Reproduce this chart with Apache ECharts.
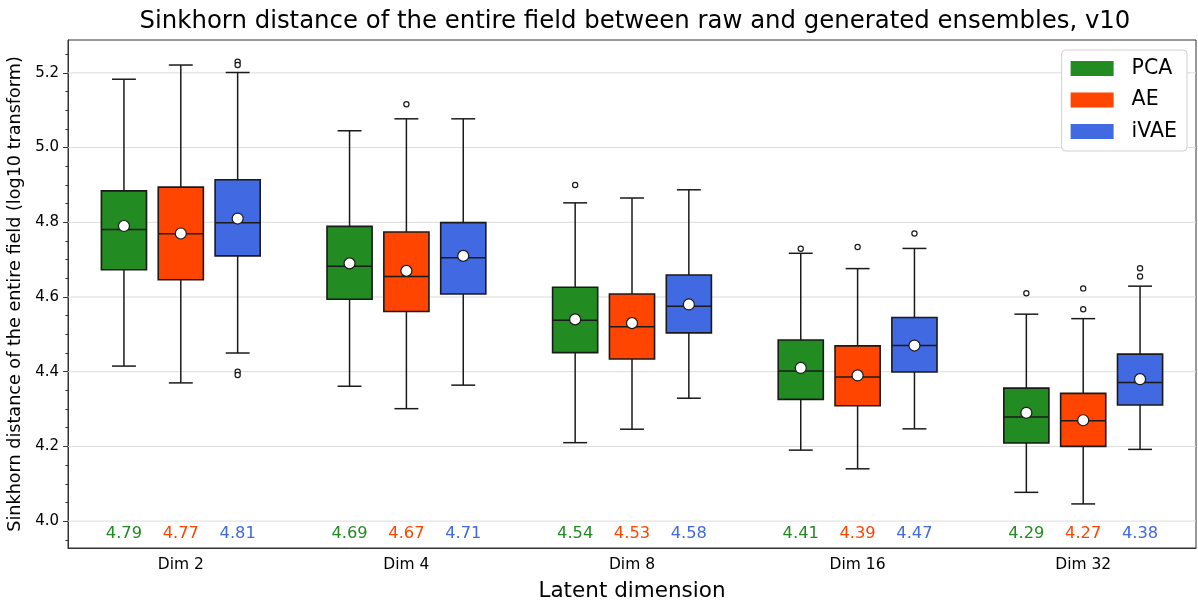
<!DOCTYPE html>
<html>
<head>
<meta charset="utf-8">
<script src="https://cdn.jsdelivr.net/npm/echarts@6/dist/echarts.min.js"></script>
<style>
  html, body { margin: 0; padding: 0; background: #fff; }
  #chart { width: 1198px; height: 604px; }
</style>
</head>
<body>
<div id="chart"></div>
<script>
// Latent dimensions on the x axis
const categories = ['Dim 2', 'Dim 4', 'Dim 8', 'Dim 16', 'Dim 32'];
const methods = ['PCA', 'AE', 'iVAE'];

// Y-axis tick labels (major) and minor tick positions
const yTickLabels = [4.0, 4.2, 4.4, 4.6, 4.8, 5.0, 5.2];
const yMinorTicks = [3.95, 4.05, 4.1, 4.15, 4.25, 4.3, 4.35, 4.45, 4.5, 4.55, 4.65, 4.7, 4.75,
                     4.85, 4.9, 4.95, 5.05, 5.1, 5.15, 5.25];

// PCA: whiskers, quartiles, medians, means, outliers
const pcaLow    = [4.415, 4.361, 4.210, 4.190, 4.077];
const pcaQ1     = [4.673, 4.594, 4.451, 4.326, 4.209];
const pcaMedian = [4.781, 4.682, 4.538, 4.402, 4.279];
const pcaQ3     = [4.884, 4.789, 4.626, 4.485, 4.356];
const pcaHigh   = [5.183, 5.045, 4.852, 4.717, 4.554];
const pcaMean   = [4.79, 4.69, 4.54, 4.41, 4.29];
const pcaOutliers = [[], [], [4.900], [4.729], [4.610]];

// AE
const aeLow    = [4.370, 4.301, 4.246, 4.140, 4.046];
const aeQ1     = [4.646, 4.561, 4.434, 4.309, 4.200];
const aeMedian = [4.769, 4.655, 4.520, 4.386, 4.269];
const aeQ3     = [4.894, 4.774, 4.608, 4.469, 4.342];
const aeHigh   = [5.221, 5.077, 4.865, 4.676, 4.542];
const aeMean   = [4.77, 4.67, 4.53, 4.39, 4.27];
const aeOutliers = [[], [5.116], [], [4.734], [4.623, 4.567]];

// iVAE
const ivaeLow    = [4.450, 4.364, 4.329, 4.247, 4.192];
const ivaeQ1     = [4.710, 4.608, 4.504, 4.399, 4.311];
const ivaeMedian = [4.799, 4.705, 4.575, 4.470, 4.371];
const ivaeQ3     = [4.914, 4.799, 4.659, 4.545, 4.447];
const ivaeHigh   = [5.201, 5.077, 4.887, 4.730, 4.629];
const ivaeMean   = [4.81, 4.71, 4.58, 4.47, 4.38];
const ivaeOutliers = [[5.230, 5.221, 4.400, 4.391], [], [], [4.770], [4.677, 4.655]];

const colors = { PCA: '#228b22', AE: '#ff4500', iVAE: '#4169e1' };

// Layout constants (fractions of a category band)
const OFFSETS = { PCA: -0.252, AE: 0, iVAE: 0.252 };
const BOX_FRAC = 0.2;
const CAP_FRAC = 0.106;
const LABEL_VALUE = 3.967;   // vertical position of the mean labels, in data units
const EDGE = '#1a1a1a';

const stats = {
  PCA:  { low: pcaLow,  q1: pcaQ1,  med: pcaMedian,  q3: pcaQ3,  high: pcaHigh,  mean: pcaMean,  out: pcaOutliers },
  AE:   { low: aeLow,   q1: aeQ1,   med: aeMedian,   q3: aeQ3,   high: aeHigh,   mean: aeMean,   out: aeOutliers },
  iVAE: { low: ivaeLow, q1: ivaeQ1, med: ivaeMedian, q3: ivaeQ3, high: ivaeHigh, mean: ivaeMean, out: ivaeOutliers }
};

function makeRender(name) {
  const s = stats[name];
  return function (params, api) {
    const i = params.dataIndex;
    const cat = api.value(0);
    const band = api.size([1, 0])[0];
    const cx = api.coord([cat, 0])[0] + OFFSETS[name] * band;
    const half = BOX_FRAC * band / 2;
    const capHalf = CAP_FRAC * band / 2;
    const y = v => api.coord([cat, v])[1];
    const lineStyle = { stroke: EDGE, lineWidth: 1.5 };
    const children = [];
    // whiskers and caps
    children.push({ type: 'line', shape: { x1: cx, y1: y(s.q1[i]), x2: cx, y2: y(s.low[i]) }, style: lineStyle });
    children.push({ type: 'line', shape: { x1: cx - capHalf, y1: y(s.low[i]), x2: cx + capHalf, y2: y(s.low[i]) }, style: lineStyle });
    children.push({ type: 'line', shape: { x1: cx, y1: y(s.q3[i]), x2: cx, y2: y(s.high[i]) }, style: lineStyle });
    children.push({ type: 'line', shape: { x1: cx - capHalf, y1: y(s.high[i]), x2: cx + capHalf, y2: y(s.high[i]) }, style: lineStyle });
    // box
    const yTop = y(s.q3[i]), yBot = y(s.q1[i]);
    children.push({ type: 'rect', shape: { x: cx - half, y: yTop, width: 2 * half, height: yBot - yTop },
                    style: { fill: colors[name], stroke: EDGE, lineWidth: 1.6 } });
    // median
    children.push({ type: 'line', shape: { x1: cx - half, y1: y(s.med[i]), x2: cx + half, y2: y(s.med[i]) }, style: lineStyle });
    // outliers
    s.out[i].forEach(v => {
      children.push({ type: 'circle', shape: { cx: cx, cy: y(v), r: 2.6 },
                      style: { fill: '#fff', stroke: EDGE, lineWidth: 1.2 } });
    });
    // mean marker
    children.push({ type: 'circle', shape: { cx: cx, cy: y(s.mean[i]), r: 5.5 },
                    style: { fill: '#fff', stroke: EDGE, lineWidth: 1.2 } });
    // mean label
    children.push({ type: 'text', style: {
      text: s.mean[i].toFixed(2), x: cx, y: y(LABEL_VALUE), align: 'center', verticalAlign: 'middle',
      fill: colors[name], fontSize: 16.3, fontFamily: 'DejaVu Sans'
    } });
    return { type: 'group', children: children };
  };
}

const series = methods.map(name => ({
  name: name,
  type: 'custom',
  renderItem: makeRender(name),
  itemStyle: { color: colors[name] },
  encode: { x: 0, y: [1, 2, 3, 4, 5, 6] },
  data: categories.map((c, i) => [i, stats[name].low[i], stats[name].q1[i], stats[name].med[i],
                                  stats[name].q3[i], stats[name].high[i], stats[name].mean[i]]),
  z: 3
}));

// horizontal grid lines at the major ticks, behind the boxes
series.push({
  type: 'custom',
  z: 1,
  silent: true,
  encode: { y: 0 },
  data: yTickLabels.map(v => [v]),
  renderItem: function (params, api) {
    const cs = params.coordSys;
    const yy = api.coord([0, api.value(0)])[1];
    return { type: 'line', shape: { x1: cs.x, y1: yy, x2: cs.x + cs.width, y2: yy },
             style: { stroke: '#dcdcdc', lineWidth: 1 } };
  }
});

const Y_MIN = 3.928, Y_MAX = 5.288;

const option = {
  animation: false,
  backgroundColor: '#fff',
  textStyle: { fontFamily: 'DejaVu Sans' },
  title: {
    text: 'Sinkhorn distance of the entire field between raw and generated ensembles, v10',
    left: 630, top: 5, textAlign: 'center',
    textStyle: { fontSize: 24.4, fontWeight: 'normal', color: '#000', fontFamily: 'DejaVu Sans' }
  },
  legend: {
    data: methods,
    orient: 'vertical',
    right: 11, top: 50,
    itemWidth: 43, itemHeight: 15, itemGap: 10.5,
    icon: 'rect',
    padding: [8, 10, 9, 9],
    borderColor: '#d0d0d0', borderWidth: 1, borderRadius: 4,
    backgroundColor: '#fff',
    textStyle: { fontSize: 20.5, color: '#000', fontFamily: 'DejaVu Sans', padding: [0, 0, 0, 13] }
  },
  grid: {
    left: 68, right: 2, top: 40, bottom: 56,
    outerBoundsMode: 'none',
    containLabel: false,
    show: true, borderColor: '#333', borderWidth: 1, backgroundColor: 'transparent'
  },
  xAxis: {
    type: 'category',
    data: categories,
    boundaryGap: true,
    name: 'Latent dimension',
    nameLocation: 'middle',
    nameGap: 32,
    nameTextStyle: { fontSize: 21.5, color: '#000', fontFamily: 'DejaVu Sans' },
    axisLine: { lineStyle: { color: '#333', width: 1 } },
    axisTick: { alignWithLabel: true, length: 5, lineStyle: { color: '#333' } },
    axisLabel: { fontSize: 15.5, color: '#000', margin: 9, fontFamily: 'DejaVu Sans' },
    splitLine: { show: false }
  },
  yAxis: [
    {
      type: 'value',
      min: Y_MIN, max: Y_MAX,
      name: 'Sinkhorn distance of the entire field (log10 transform)',
      nameLocation: 'middle',
      nameGap: 39,
      nameTextStyle: { fontSize: 17.6, color: '#000', fontFamily: 'DejaVu Sans' },
      axisLine: { show: true, lineStyle: { color: '#333', width: 1 } },
      axisTick: { show: true, length: 5, customValues: yTickLabels, lineStyle: { color: '#333' } },
      axisLabel: { fontSize: 15, color: '#000', margin: 9, customValues: yTickLabels,
                   formatter: v => Number(v).toFixed(1), fontFamily: 'DejaVu Sans' },
      splitLine: { show: false }
    },
    {
      type: 'value',
      min: Y_MIN, max: Y_MAX,
      position: 'left',
      axisLine: { show: false },
      axisTick: { show: true, length: 2.5, customValues: yMinorTicks, lineStyle: { color: '#333' } },
      axisLabel: { show: false },
      splitLine: { show: false }
    }
  ],
  series: series
};

const chart = echarts.init(document.getElementById('chart'), null, { renderer: 'canvas' });
chart.setOption(option);
</script>
</body>
</html>
